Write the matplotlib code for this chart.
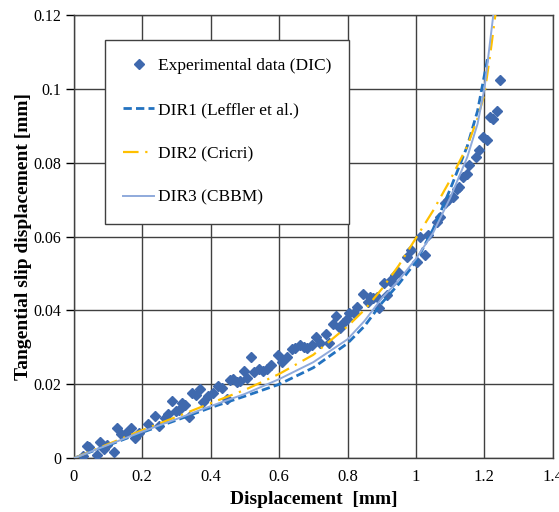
import matplotlib.pyplot as plt

# Experimental data (DIC)
exp_x = [0.027, 0.040, 0.045, 0.068, 0.078, 0.088, 0.097, 0.117, 0.127, 0.137,
         0.152, 0.166, 0.178, 0.190, 0.217, 0.237, 0.250, 0.266, 0.276, 0.287,
         0.298, 0.307, 0.315, 0.325, 0.336, 0.346, 0.357, 0.369, 0.378, 0.393,
         0.408, 0.422, 0.432, 0.447, 0.457, 0.466, 0.476, 0.486, 0.496, 0.505,
         0.517, 0.527, 0.542, 0.554, 0.565, 0.576, 0.597, 0.609, 0.623, 0.638,
         0.647, 0.661, 0.673, 0.682, 0.696, 0.708, 0.720, 0.738, 0.746, 0.758,
         0.767, 0.778, 0.787, 0.799, 0.805, 0.819, 0.828, 0.846, 0.860, 0.866,
         0.875, 0.887, 0.893, 0.907, 0.916, 0.925, 0.931, 0.939, 0.948, 0.975,
         0.986, 1.004, 1.013, 1.027, 1.036, 1.062, 1.071, 1.086, 1.095, 1.109,
         1.121, 1.127, 1.138, 1.150, 1.156, 1.174, 1.185, 1.197, 1.209, 1.217,
         1.226, 1.238, 1.247]
exp_y = [0.0005, 0.0033, 0.0030, 0.0008, 0.0043, 0.0024, 0.0035, 0.0016, 0.0081, 0.0065,
         0.0068, 0.0081, 0.0054, 0.0068, 0.0092, 0.0114, 0.0087, 0.0108, 0.0119, 0.0154,
         0.0127, 0.0130, 0.0149, 0.0143, 0.0111, 0.0176, 0.0171, 0.0187, 0.0152, 0.0168,
         0.0176, 0.0195, 0.0190, 0.0160, 0.0211, 0.0214, 0.0206, 0.0209, 0.0236, 0.0217,
         0.0274, 0.0233, 0.0241, 0.0236, 0.0241, 0.0252, 0.0279, 0.0260, 0.0274, 0.0295,
         0.0298, 0.0306, 0.0300, 0.0298, 0.0306, 0.0328, 0.0311, 0.0336, 0.0311, 0.0363,
         0.0385, 0.0352, 0.0366, 0.0376, 0.0393, 0.0393, 0.0409, 0.0444, 0.0423, 0.0436,
         0.0433, 0.0436, 0.0406, 0.0474, 0.0441, 0.0480, 0.0477, 0.0496, 0.0505, 0.0544,
         0.0563, 0.0531, 0.0599, 0.0550, 0.0604, 0.0639, 0.0653, 0.0691, 0.0699, 0.0707,
         0.0729, 0.0734, 0.0761, 0.0769, 0.0794, 0.0815, 0.0834, 0.0869, 0.0861, 0.0924,
         0.0918, 0.0940, 0.1024]

# DIR1 (Leffler et al.)
dir1_x = [0, 0.1, 0.2, 0.3, 0.4, 0.5, 0.6, 0.7, 0.8, 0.85, 0.9, 0.95, 1.0,
          1.05, 1.1, 1.15, 1.18, 1.21]
dir1_y = [0, 0.0035, 0.0070, 0.0103, 0.0137, 0.0168, 0.0200, 0.0245, 0.0311,
          0.0358, 0.0420, 0.0472, 0.0532, 0.0620, 0.0728, 0.0845, 0.0940, 0.1085]

# DIR2 (Cricri)
dir2_x = [0, 0.1, 0.2, 0.3, 0.4, 0.5, 0.6, 0.7, 0.8, 0.85, 0.9, 0.95, 1.0,
          1.05, 1.1, 1.15, 1.18, 1.2, 1.218, 1.232]
dir2_y = [0, 0.0038, 0.0076, 0.0112, 0.0149, 0.0185, 0.0228, 0.0280, 0.0357,
          0.0402, 0.0458, 0.0522, 0.0596, 0.0670, 0.0753, 0.0845, 0.0920,
          0.0985, 0.1100, 0.1200]

# DIR3 (CBBM)
dir3_x = [0, 0.1, 0.2, 0.3, 0.4, 0.5, 0.6, 0.7, 0.8, 0.85, 0.9, 0.95, 1.0,
          1.05, 1.1, 1.15, 1.18, 1.2, 1.213, 1.226]
dir3_y = [0, 0.0036, 0.0072, 0.0106, 0.0141, 0.0174, 0.0214, 0.0260, 0.0322,
          0.0372, 0.0433, 0.0482, 0.0540, 0.0610, 0.0705, 0.0815, 0.0905,
          0.1000, 0.1100, 0.1200]

plt.rcParams['font.family'] = ['Liberation Serif', 'DejaVu Serif']

fig = plt.figure(figsize=(5.59, 5.12), dpi=100)
ax = fig.add_axes([0.132, 0.105, 0.857, 0.866])

ax.plot(exp_x, exp_y, linestyle='none', marker='D', markersize=5.3,
        color='#3F69AE', label='Experimental data (DIC)', zorder=3)
ax.plot(dir1_x, dir1_y, linestyle=(0, (3, 1.5)), color='#2372C0', linewidth=2,
        label='DIR1 (Leffler et al.)', zorder=4)
ax.plot(dir2_x, dir2_y, linestyle=(0, (7, 3, 1, 3)), color='#FFC000', linewidth=1.6,
        label='DIR2 (Cricri)', zorder=4)
ax.plot(dir3_x, dir3_y, linestyle='-', color='#8FAADC', linewidth=1.4,
        label='DIR3 (CBBM)', zorder=4)

ax.set_xlim(0, 1.4)
ax.set_ylim(0, 0.12)
ax.set_xticks([0, 0.2, 0.4, 0.6, 0.8, 1.0, 1.2, 1.4])
ax.set_xticklabels(['0', '0.2', '0.4', '0.6', '0.8', '1', '1.2', '1.4'])
ax.set_yticks([0, 0.02, 0.04, 0.06, 0.08, 0.1, 0.12])
ax.set_yticklabels(['0', '0.02', '0.04', '0.06', '0.08', '0.1', '0.12'])
ax.tick_params(axis='x', length=0, pad=8, labelsize=12)
ax.tick_params(axis='y', length=6, width=1, direction='out', pad=3, labelsize=11.5)
ax.grid(True, color='#404040', linewidth=1)
ax.set_axisbelow(True)
for s in ax.spines.values():
    s.set_color('#404040')
    s.set_linewidth(1)

ax.set_xlabel('Displacement  [mm]', fontsize=14, fontweight='bold', labelpad=4)
ax.set_ylabel('Tangential slip displacement [mm]', fontsize=14, fontweight='bold', labelpad=1)

leg = ax.legend(loc='upper left', bbox_to_anchor=(0.065, 0.944), fontsize=12.5,
                frameon=True, fancybox=False, edgecolor='#404040', framealpha=1,
                labelspacing=1.6, handlelength=1.8, handletextpad=0.2,
                borderpad=1.05, borderaxespad=0)
leg.get_frame().set_linewidth(1)

plt.savefig('out.png', dpi=100)
